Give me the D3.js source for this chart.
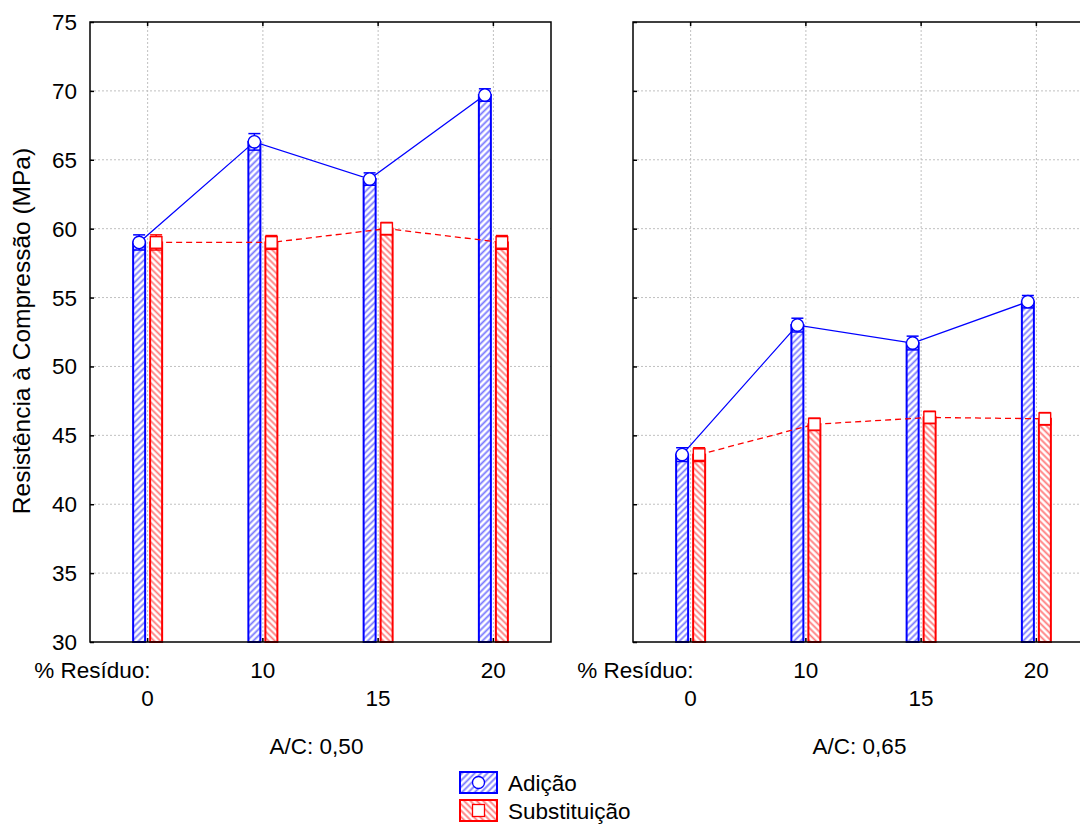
<!DOCTYPE html>
<html>
<head>
<meta charset="utf-8">
<script src="https://cdn.jsdelivr.net/npm/d3@7"></script>
<style>
  body { margin: 0; background: #fff; }
  svg { display: block; font-family: "Liberation Sans", Arial, sans-serif; }
</style>
</head>
<body>
<div id="chart"></div>
<script>
// data
var categories = ["0", "10", "15", "20"]
var panels = ["A/C: 0,50", "A/C: 0,65"]
var seriesNames = ["Adição", "Substituição"]
var yTicks = [30, 35, 40, 45, 50, 55, 60, 65, 70, 75]

var adicao050 = [59.0, 66.3, 63.6, 69.7]
var subst050 = [59.0, 59.0, 60.0, 59.0]
var adicao065 = [43.6, 53.0, 51.7, 54.7]
var subst065 = [43.6, 45.8, 46.3, 46.2]

var errAdicao050 = [0.55, 0.6, 0.45, 0.45]
var errSubst050 = [0.55, 0.5, 0.45, 0.5]
var errAdicao065 = [0.5, 0.5, 0.5, 0.45]
var errSubst065 = [0.5, 0.45, 0.45, 0.45]

var width = 1080, height = 825
var top_y = 22, bottom_y = 642
var panel_w = 461
var panel_x = [90, 633]
var fontSize = 22.5

var colors = {"Adição": "#0000ff", "Substituição": "#ff0000"}
var hatchColors = {"Adição": "#7a7aff", "Substituição": "#ff7a7a"}

var svg = d3.select("#chart").append("svg")
  .attr("width", width)
  .attr("height", height)

var defs = svg.append("defs")
function makeHatch(id, color, dir) {
  var p = defs.append("pattern")
    .attr("id", id)
    .attr("patternUnits", "userSpaceOnUse")
    .attr("width", 4.5).attr("height", 4.5)
    .attr("patternTransform", "rotate(" + dir + ")")
  p.append("rect").attr("width", 4.5).attr("height", 4.5).attr("fill", "#fff")
  p.append("line")
    .attr("x1", 2.25).attr("y1", 0).attr("x2", 2.25).attr("y2", 4.5)
    .attr("stroke", color).attr("stroke-width", 1.8)
}
makeHatch("hatch-a", hatchColors["Adição"], 45)
makeHatch("hatch-s", hatchColors["Substituição"], -45)
var fills = {"Adição": "url(#hatch-a)", "Substituição": "url(#hatch-s)"}

var y = d3.scaleLinear().domain([30, 75]).range([bottom_y, top_y])

var panelData = [
  {name: panels[0], series: [
    {name: seriesNames[0], values: adicao050, err: errAdicao050},
    {name: seriesNames[1], values: subst050, err: errSubst050}]},
  {name: panels[1], series: [
    {name: seriesNames[0], values: adicao065, err: errAdicao065},
    {name: seriesNames[1], values: subst065, err: errSubst065}]}
]

var inner = d3.scaleBand().domain(seriesNames).range([-14.5, 14.5]).paddingInner(5 / 17)

panelData.forEach(function(pd, pi) {
  var x0 = panel_x[pi]
  var x = d3.scaleBand().domain(categories).range([x0, x0 + panel_w])
  var g = svg.append("g")

  // grid
  g.selectAll(".hgrid").data(yTicks.slice(1, -1)).enter().append("line")
    .attr("x1", x0).attr("x2", x0 + panel_w)
    .attr("y1", function(d) { return y(d) }).attr("y2", function(d) { return y(d) })
    .attr("stroke", "#c0c0c0").attr("stroke-width", 1).attr("stroke-dasharray", "2,2")
  g.selectAll(".vgrid").data(categories).enter().append("line")
    .attr("x1", function(d) { return x(d) + x.bandwidth() / 2 })
    .attr("x2", function(d) { return x(d) + x.bandwidth() / 2 })
    .attr("y1", top_y).attr("y2", bottom_y)
    .attr("stroke", "#c0c0c0").attr("stroke-width", 1).attr("stroke-dasharray", "2,2")

  // bars, error bars
  pd.series.forEach(function(s) {
    var col = colors[s.name]
    var cx = function(i) { return x(categories[i]) + x.bandwidth() / 2 + inner(s.name) + inner.bandwidth() / 2 }
    g.selectAll(".bar" + s.name).data(s.values).enter().append("rect")
      .attr("x", function(d, i) { return cx(i) - inner.bandwidth() / 2 })
      .attr("width", inner.bandwidth())
      .attr("y", function(d) { return y(d) })
      .attr("height", function(d) { return bottom_y - y(d) })
      .attr("fill", fills[s.name])
      .attr("stroke", col).attr("stroke-width", 2)

    s.values.forEach(function(v, i) {
      var e = s.err[i], c = cx(i), hw = inner.bandwidth() / 2
      g.append("line").attr("x1", c).attr("x2", c)
        .attr("y1", y(v + e)).attr("y2", y(v - e))
        .attr("stroke", col).attr("stroke-width", 1.5)
      g.append("line").attr("x1", c - hw).attr("x2", c + hw)
        .attr("y1", y(v + e)).attr("y2", y(v + e))
        .attr("stroke", col).attr("stroke-width", 1.5)
      g.append("line").attr("x1", c - hw).attr("x2", c + hw)
        .attr("y1", y(v - e)).attr("y2", y(v - e))
        .attr("stroke", col).attr("stroke-width", 1.5)
    })

    var line = d3.line()
      .x(function(d, i) { return cx(i) })
      .y(function(d) { return y(d) })
    g.append("path").datum(s.values)
      .attr("d", line)
      .attr("fill", "none")
      .attr("stroke", col).attr("stroke-width", 1.3)
      .attr("stroke-dasharray", s.name == "Substituição" ? "6,4" : null)

    if (s.name == "Adição") {
      g.selectAll(".mk-a").data(s.values).enter().append("circle")
        .attr("cx", function(d, i) { return cx(i) })
        .attr("cy", function(d) { return y(d) })
        .attr("r", 6.2)
        .attr("fill", "#fff").attr("stroke", col).attr("stroke-width", 1.4)
    } else {
      g.selectAll(".mk-s").data(s.values).enter().append("rect")
        .attr("x", function(d, i) { return cx(i) - 5.8 })
        .attr("y", function(d) { return y(d) - 5.8 })
        .attr("width", 11.6).attr("height", 11.6)
        .attr("fill", "#fff").attr("stroke", col).attr("stroke-width", 1.4)
    }
  })

  // frame
  g.append("rect")
    .attr("x", x0).attr("y", top_y)
    .attr("width", panel_w).attr("height", bottom_y - top_y)
    .attr("fill", "none").attr("stroke", "#000").attr("stroke-width", 1.5)

  // inward ticks
  var yAxis = d3.axisRight(y).tickValues(yTicks).tickSize(4).tickFormat("")
  var ya = g.append("g").attr("transform", "translate(" + x0 + ",0)").call(yAxis)
  var xAxisB = d3.axisTop(x).tickSize(4).tickFormat("")
  var xb = g.append("g").attr("transform", "translate(0," + bottom_y + ")").call(xAxisB)
  var xAxisT = d3.axisBottom(x).tickSize(4).tickFormat("")
  var xt = g.append("g").attr("transform", "translate(0," + top_y + ")").call(xAxisT)
  ;[ya, xb, xt].forEach(function(a) {
    a.select(".domain").remove()
    a.selectAll(".tick line").attr("stroke", "#000").attr("stroke-width", 1.5)
  })

  // tick labels, staggered
  g.selectAll(".xlab").data(categories).enter().append("text")
    .attr("x", function(d) { return x(d) + x.bandwidth() / 2 })
    .attr("y", function(d, i) { return i % 2 == 0 ? 706 : 678 })
    .attr("text-anchor", "middle")
    .attr("font-size", fontSize)
    .text(function(d) { return d })
  g.append("text")
    .attr("x", x(categories[0]) + x.bandwidth() / 2 + 3)
    .attr("y", 678)
    .attr("text-anchor", "end")
    .attr("font-size", fontSize)
    .text("% Resíduo:")
  g.append("text")
    .attr("x", x0 + panel_w / 2 - 4)
    .attr("y", 754)
    .attr("text-anchor", "middle")
    .attr("font-size", fontSize)
    .text(pd.name)
})

// y tick labels on left panel
svg.selectAll(".ylab").data(yTicks).enter().append("text")
  .attr("x", 77)
  .attr("y", function(d) { return y(d) + 8 })
  .attr("text-anchor", "end")
  .attr("font-size", fontSize)
  .text(function(d) { return d })

svg.append("text")
  .attr("transform", "translate(30,331) rotate(-90)")
  .attr("text-anchor", "middle")
  .attr("font-size", 24.5)
  .text("Resistência à Compressão (MPa)")

// legend
var legend = svg.append("g").attr("transform", "translate(460,772)")
seriesNames.forEach(function(n, i) {
  var lg = legend.append("g").attr("transform", "translate(0," + (i * 28) + ")")
  lg.append("rect").attr("width", 37).attr("height", 21)
    .attr("fill", fills[n]).attr("stroke", colors[n]).attr("stroke-width", 2)
  if (i == 0) {
    lg.append("circle").attr("cx", 18.5).attr("cy", 10.5).attr("r", 6)
      .attr("fill", "#fff").attr("stroke", colors[n]).attr("stroke-width", 1.3)
  } else {
    lg.append("rect").attr("x", 12.5).attr("y", 4.5).attr("width", 12).attr("height", 12)
      .attr("fill", "#fff").attr("stroke", colors[n]).attr("stroke-width", 1.3)
  }
  lg.append("text").attr("x", 48).attr("y", 18.5)
    .attr("font-size", fontSize)
    .text(n)
})
</script>
</body>
</html>
